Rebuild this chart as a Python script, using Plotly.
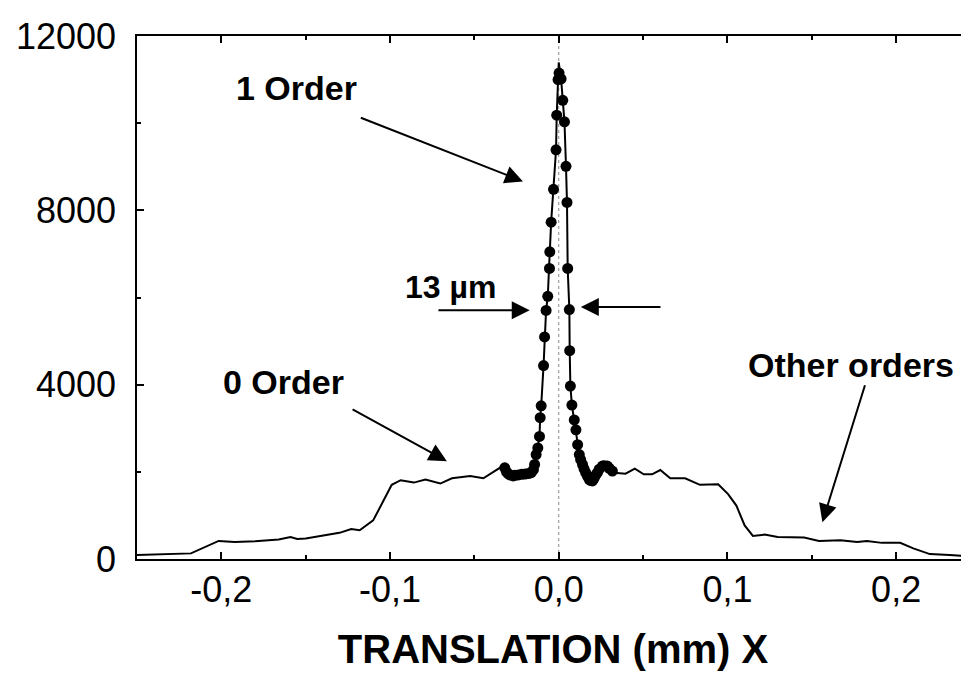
import plotly.graph_objects as go

# Measured profile (solid line)
x_profile = [-0.250, -0.230, -0.218, -0.2016, -0.192, -0.180, -0.166, -0.159, -0.155, -0.150,
             -0.139, -0.130, -0.123, -0.118, -0.110, -0.099, -0.0937, -0.0859, -0.079, -0.0702,
             -0.0633, -0.0525, -0.0447, -0.0349, -0.032, -0.027, -0.0212, -0.0163, -0.0143, -0.0134,
             -0.0124, -0.0114, -0.011, -0.0104, -0.009, -0.0084, -0.0075, -0.0065, -0.0055, -0.0053,
             -0.0045, -0.0031, -0.0016, -0.0012, 0.0, 0.0014, 0.0024, 0.0034, 0.0043, 0.0049,
             0.0053, 0.0063, 0.0065, 0.0069, 0.0078, 0.0092, 0.0102, 0.0112, 0.0122, 0.0141,
             0.016, 0.018, 0.020, 0.0229, 0.0259, 0.0288, 0.0328, 0.0396, 0.0451, 0.0504,
             0.0553, 0.0602, 0.0661, 0.0749, 0.0837, 0.0945, 0.1004, 0.1053, 0.1102, 0.1151,
             0.122, 0.1298, 0.1376, 0.1455, 0.1543, 0.167, 0.1769, 0.1827, 0.1916, 0.2024,
             0.2102, 0.220, 0.2318, 0.243]
y_profile = [91, 105, 129, 415, 392, 410, 447, 506, 460, 469,
             538, 600, 687, 658, 885, 1701, 1808, 1753, 1821, 1731,
             1853, 1905, 1853, 2093, 2093, 1905, 1944, 1980, 2170, 2397,
             2547, 2812, 3243, 3515, 4438, 5096, 5704, 6026, 6668, 7047,
             7727, 8482, 9389, 10183, 11392, 11015, 10523, 10031, 9011, 8181,
             6668, 5722, 4779, 3969, 3531, 3191, 2964, 2624, 2397, 2170,
             1980, 1830, 1792, 1980, 2132, 2132, 1980, 1957, 2071, 1944,
             1944, 2041, 1853, 1853, 1701, 1717, 1490, 1225, 771, 528,
             560, 506, 506, 492, 415, 431, 392, 415, 370, 370,
             243, 113, 91, 68]

# First-order points (filled dots)
x_dots = [-0.032, -0.031, -0.030, -0.029, -0.027, -0.026, -0.024, -0.022, -0.020, -0.018,
          -0.0163, -0.015, -0.0143, -0.0134, -0.0124, -0.0114, -0.011, -0.0104, -0.009, -0.0084,
          -0.0075, -0.0065, -0.0055, -0.0053, -0.0045, -0.0031, -0.0016, -0.0012, -0.0004, 0.0002,
          0.0014, 0.0024, 0.0034, 0.0043, 0.0049, 0.0053, 0.0063, 0.0065, 0.0069, 0.0078,
          0.0092, 0.0102, 0.0112, 0.0122, 0.013, 0.0141, 0.015, 0.016, 0.017, 0.018,
          0.019, 0.020, 0.021, 0.022, 0.0229, 0.024, 0.0259, 0.027, 0.0288, 0.030, 0.0318]
y_dots = [2093, 2000, 1960, 1930, 1905, 1920, 1930, 1944, 1950, 1960,
          1980, 2050, 2170, 2397, 2547, 2812, 3243, 3515, 4438, 5096,
          5704, 6026, 6668, 7047, 7727, 8482, 9389, 10183, 11000, 11150,
          11015, 10523, 10031, 9011, 8181, 6668, 5722, 4779, 3969, 3531,
          3191, 2964, 2624, 2397, 2280, 2170, 2070, 1980, 1900, 1830,
          1800, 1792, 1850, 1930, 1980, 2060, 2132, 2140, 2132, 2080, 2018]

x_tick_vals = [-0.2, -0.1, 0.0, 0.1, 0.2]
x_tick_text = ["-0,2", "-0,1", "0,0", "0,1", "0,2"]
y_tick_vals = [0, 4000, 8000, 12000]
y_tick_text = ["0", "4000", "8000", "12000"]

FONT = "Liberation Sans, Arial, sans-serif"

fig = go.Figure()
fig.add_trace(go.Scatter(x=x_profile, y=y_profile, mode="lines",
                         line=dict(color="black", width=2), showlegend=False))
fig.add_trace(go.Scatter(x=x_dots, y=y_dots, mode="markers",
                         marker=dict(color="black", size=11), showlegend=False))

fig.add_shape(type="line", x0=0, x1=0, y0=0, y1=1, xref="x", yref="paper",
              line=dict(color="#888888", width=1, dash="dot"), layer="below")

def label(text, x, y, size=34):
    fig.add_annotation(x=x, y=y, text="<b>%s</b>" % text, showarrow=False,
                       font=dict(family=FONT, size=size, color="black"),
                       xanchor="center", yanchor="middle")

def arrow(x_tail, y_tail, x_head, y_head):
    fig.add_annotation(x=x_head, y=y_head, ax=x_tail, ay=y_tail, axref="x", ayref="y",
                       text="", showarrow=True, arrowhead=2, arrowsize=1.8,
                       arrowwidth=2, arrowcolor="black")

label("1 Order", -0.1553, 10796)
arrow(-0.1182, 10138, -0.0212, 8664)
label("0 Order", -0.163, 4060)
arrow(-0.1231, 3454, -0.0663, 2245)
label("Other orders", 0.173, 4445)
arrow(0.1818, 4021, 0.1563, 846)
label("13 µm", -0.0643, 6237, size=32)
arrow(-0.0722, 5708, -0.0172, 5708)
arrow(0.0612, 5783, 0.0131, 5783)

fig.update_layout(
    width=969, height=674,
    margin=dict(l=123, r=8, t=22, b=123),
    paper_bgcolor="white", plot_bgcolor="white",
    font=dict(family=FONT, color="black"),
    xaxis=dict(range=[-0.25, 0.2432], tickvals=x_tick_vals, ticktext=x_tick_text,
               ticks="inside", ticklen=7, tickwidth=1.5, tickcolor="black",
               minor=dict(dtick=0.05, ticks="inside", ticklen=4, tickcolor="black"),
               showline=True, linecolor="black", linewidth=2, mirror="ticks",
               showgrid=False, zeroline=False,
               tickfont=dict(size=36, family=FONT), ticklabelstandoff=-2,
               title=dict(text="<b>TRANSLATION (mm) X</b>", font=dict(size=40, family=FONT),
                          standoff=26)),
    yaxis=dict(range=[0, 12000], tickvals=y_tick_vals, ticktext=y_tick_text,
               ticks="inside", ticklen=7, tickwidth=1.5, tickcolor="black",
               minor=dict(dtick=2000, ticks="inside", ticklen=4, tickcolor="black"),
               showline=True, linecolor="black", linewidth=1.5, mirror=False,
               showgrid=False, zeroline=False,
               tickfont=dict(size=36, family=FONT), ticklabelstandoff=12),
)

fig.write_html("out.html")
